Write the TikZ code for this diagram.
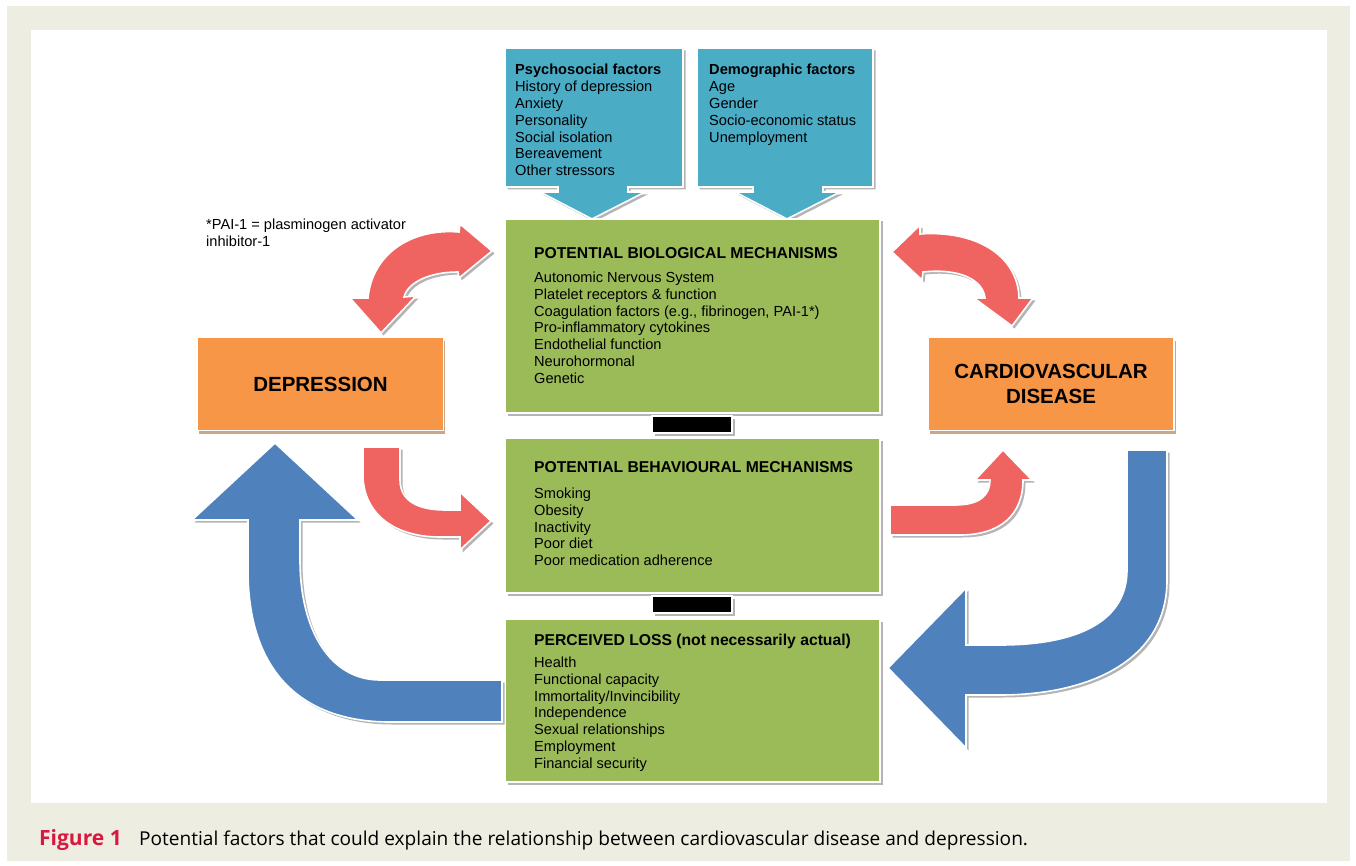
\documentclass[tikz,border=0pt]{standalone}
\usepackage{fontspec}
\setmainfont{Liberation Sans}
\newfontfamily\capfont{Open Sans}
\usetikzlibrary{shadows}
\definecolor{beige}{HTML}{EEEDE2}
\definecolor{callblue}{HTML}{4BACC6}
\definecolor{boxgreen}{HTML}{9BBB59}
\definecolor{boxorange}{HTML}{F79646}
\definecolor{arrred}{HTML}{EF6461}
\definecolor{arrblue}{HTML}{4F81BD}
\definecolor{shadowgray}{HTML}{B4B4B4}
\definecolor{orangeshadow}{HTML}{C9A88A}
\definecolor{figred}{HTML}{D7193F}
\tikzset{
  shd/.style={drop shadow={shadow xshift=2.5pt,shadow yshift=-2.5pt,fill=shadowgray,opacity=1}},
  oshd/.style={drop shadow={shadow xshift=1.5pt,shadow yshift=-3pt,fill=orangeshadow,opacity=1}},
  outline/.style={draw=white,line width=1.6pt,line join=miter},
  greenbox/.style={shd,outline,fill=boxgreen,rectangle,inner sep=0pt,minimum width=375pt},
  orangebox/.style={oshd,outline,fill=boxorange,rectangle,inner sep=0pt,minimum width=246pt,minimum height=93pt,
     align=center,font=\bfseries\fontsize{20.5}{25}\selectfont},
  blackbar/.style={shd,outline,fill=black,rectangle,inner sep=0pt,minimum width=80pt,minimum height=17pt},
  callout/.style={shd,outline,fill=callblue},
  redarrow/.style={shd,outline,fill=arrred},
  bluearrow/.style={shd,outline,fill=arrblue},
  txt/.style={inner sep=0pt,anchor=base west,font=\fontsize{14.6}{16.8}\selectfont},
  ttl/.style={inner sep=0pt,anchor=base west,font=\bfseries\fontsize{15.7}{18}\selectfont},
}
\begin{document}
\begin{tikzpicture}[x=1pt,y=-1pt]
\useasboundingbox (0,0) rectangle (1356,866);
% backgrounds
\fill[white] (0,0) rectangle (1356,866);
\fill[beige] (7,6) rectangle (1350,861);
\fill[white] (31,30) rectangle (1327,803);

% blue callouts
\path[callout] (505,48) -- (683,48) -- (683,187) -- (628,187) -- (628,192) -- (645,192) -- (592,219)
  -- (540,192) -- (558,192) -- (558,187) -- (505,187) -- cycle;
\path[callout] (697,48) -- (873,48) -- (873,187) -- (823,187) -- (823,192) -- (840,192) -- (787,219)
  -- (735,192) -- (753,192) -- (753,187) -- (697,187) -- cycle;
\node[txt] (psy) at (515,75) {\begin{tabular}[t]{@{}l@{}}\textbf{Psychosocial factors}\\History of depression\\Anxiety\\Personality\\Social isolation\\Bereavement\\Other stressors\end{tabular}};
\node[txt] (demo) at (709,75) {\begin{tabular}[t]{@{}l@{}}\textbf{Demographic factors}\\Age\\Gender\\Socio-economic status\\Unemployment\end{tabular}};

% green boxes
\node[greenbox,minimum height=194pt] (bio) at (692.5,316) {};
\node[greenbox,minimum height=155pt] (beh) at (692.5,515.5) {};
\node[greenbox,minimum height=163pt] (loss) at (692.5,700.5) {};
\node[blackbar] (bar1) at (692,424.5) {};
\node[blackbar] (bar2) at (692,604.5) {};

\node[ttl] (bioT) at (534,258.6) {POTENTIAL BIOLOGICAL MECHANISMS};
\node[txt] (bioL) at (534,282.5) {\begin{tabular}[t]{@{}l@{}}Autonomic Nervous System\\Platelet receptors \& function\\Coagulation factors (e.g., fibrinogen, PAI-1*)\\Pro-inflammatory cytokines\\Endothelial function\\Neurohormonal\\Genetic\end{tabular}};
\node[ttl] (behT) at (534,472.6) {POTENTIAL BEHAVIOURAL MECHANISMS};
\node[txt] (behL) at (534,498.5) {\begin{tabular}[t]{@{}l@{}}Smoking\\Obesity\\Inactivity\\Poor diet\\Poor medication adherence\end{tabular}};
\node[ttl] (lossT) at (534,645.6) {PERCEIVED LOSS (not necessarily actual)};
\node[txt] (lossL) at (534,667.5) {\begin{tabular}[t]{@{}l@{}}Health\\Functional capacity\\Immortality/Invincibility\\Independence\\Sexual relationships\\Employment\\Financial security\end{tabular}};

% orange boxes
\node[orangebox] (dep) at (320.5,384) {DEPRESSION};
\node[orangebox] (cvd) at (1051,384) {CARDIOVASCULAR\\DISEASE};

% footnote
\node[txt] (foot) at (206,229.5) {\begin{tabular}[t]{@{}l@{}}*PAI-1 = plasminogen activator\\inhibitor-1\end{tabular}};

% red arrows
\path[redarrow] (350,298) -- (381,333) -- (416,296) -- (404,297)
  .. controls (408,282) and (430,272) .. (458,272) -- (459,278) -- (492,251) -- (460,224) -- (459,232)
  .. controls (410,228) and (372,255) .. (368,298) -- cycle;
\path[redarrow] (922,280) -- (892,252) -- (920,225) -- (920,234)
  .. controls (975,230) and (1018,255) .. (1019,298) -- (1033,298) -- (1012,326) -- (974,298) -- (985,298)
  .. controls (983,280) and (960,268) .. (923,272) -- cycle;
\path[redarrow] (363,447) -- (400,447) -- (400,480) .. controls (400,502) and (420,510) .. (445,510)
  -- (460,510) -- (460,492) -- (491,521) -- (460,550) -- (460,537) -- (440,537)
  .. controls (390,537) and (363,510) .. (363,475) -- cycle;
\path[redarrow] (890,505) -- (955,505) .. controls (980,505) and (990,495) .. (990,480) -- (975,480)
  -- (1003,450) -- (1032,480) -- (1023,480) .. controls (1023,515) and (1000,535) .. (960,535)
  -- (890,535) -- cycle;

% blue arrows
\path[bluearrow] (502,680) -- (380,680) .. controls (330,680) and (300,630) .. (300,560) -- (300,520)
  -- (358,520) -- (275,443) -- (192,520) -- (248,520) -- (248,570)
  .. controls (248,680) and (310,722) .. (390,722) -- (502,722) -- cycle;
\path[bluearrow] (1127,450) -- (1167,450) -- (1167,580) .. controls (1167,660) and (1090,695) .. (1000,695)
  -- (966,695) -- (966,748) -- (888,668) -- (966,588) -- (966,645) -- (1000,645)
  .. controls (1080,645) and (1127,620) .. (1127,570) -- cycle;

% caption
\node[inner sep=0pt,anchor=base west,font=\capfont\bfseries\fontsize{21}{24}\selectfont,text=figred] (figlab) at (39,845) {Figure 1};
\node[inner sep=0pt,anchor=base west,font=\capfont\fontsize{19.1}{22}\selectfont] (figcap) at (139,845) {Potential factors that could explain the relationship between cardiovascular disease and depression.};
\end{tikzpicture}
\end{document}
